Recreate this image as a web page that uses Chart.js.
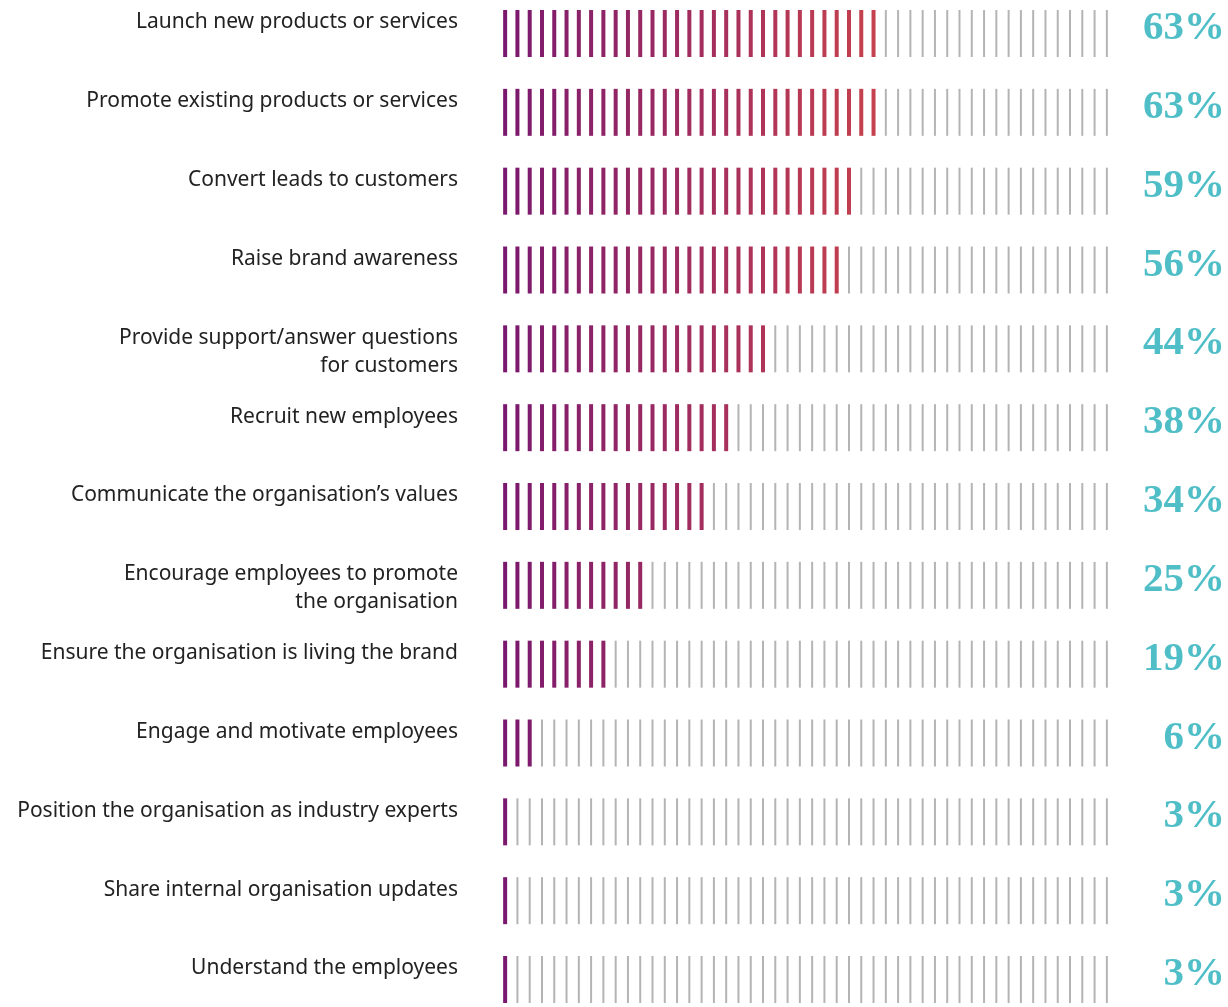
<!DOCTYPE html>
<html>
<head>
<meta charset="utf-8">
<script src="https://cdn.jsdelivr.net/npm/chart.js@4/dist/chart.umd.min.js"></script>
<style>
html,body{margin:0;padding:0;background:#fff;}
#wrap{width:1228px;height:1007px;position:relative;}
</style>
</head>
<body>
<div id="wrap"><canvas id="c"></canvas></div>
<script>
// ---- data ----
const categories = [
  ["Launch new products or services", ""],
  ["Promote existing products or services", ""],
  ["Convert leads to customers", ""],
  ["Raise brand awareness", ""],
  ["Provide support/answer questions", "for customers"],
  ["Recruit new employees", ""],
  ["Communicate the organisation\u2019s values", ""],
  ["Encourage employees to promote", "the organisation"],
  ["Ensure the organisation is living the brand", ""],
  ["Engage and motivate employees", ""],
  ["Position the organisation as industry experts", ""],
  ["Share internal organisation updates", ""],
  ["Understand the employees", ""]
];
const values = [63, 63, 59, 56, 44, 38, 34, 25, 19, 6, 3, 3, 3];
const valueLabels = values.map(v => v + "%");
const tickCount = 50;      // each stick stands for 2%
const tickStep = 2;

// ---- build stick points from the values ----
const filledPts = [], emptyPts = [];
values.forEach((v, row) => {
  const n = Math.floor(v / tickStep);
  for (let k = 0; k < tickCount; k++) {
    (k < n ? filledPts : emptyPts).push({x: k, y: row});
  }
});

const c0 = [122, 24, 110], c1 = [198, 65, 78];
function stickColor(k) {
  const t = Math.min(k / 30, 1);
  const c = c0.map((a, i) => Math.round(a + (c1[i] - a) * t));
  return `rgb(${c[0]},${c[1]},${c[2]})`;
}

const commonY = {
  type: 'linear', reverse: true, min: 0, max: categories.length - 1,
  grid: {display: false, drawTicks: false}, border: {display: false},
  afterBuildTicks: s => { s.ticks = categories.map((_, i) => ({value: i})); }
};

new Chart(document.getElementById('c'), {
  type: 'scatter',
  data: {
    datasets: [
      {
        label: 'share', data: filledPts, yAxisID: 'y',
        pointStyle: 'line', rotation: 90, radius: 23.5, hoverRadius: 23.5, hitRadius: 0,
        borderWidth: 4, hoverBorderWidth: 4,
        borderColor: ctx => stickColor(ctx.raw ? ctx.raw.x : 0),
        hoverBorderColor: ctx => stickColor(ctx.raw ? ctx.raw.x : 0),
        clip: false
      },
      {
        label: 'rest', data: emptyPts, yAxisID: 'y',
        pointStyle: 'line', rotation: 90, radius: 23.5, hoverRadius: 23.5, hitRadius: 0,
        borderWidth: 2, hoverBorderWidth: 2,
        borderColor: '#b4b4b4', hoverBorderColor: '#b4b4b4',
        clip: false
      }
    ]
  },
  options: {
    responsive: true, maintainAspectRatio: false, animation: false,
    devicePixelRatio: 1, events: [],
    layout: {padding: {top: 33.5, bottom: 24, left: 0, right: 3}},
    plugins: {legend: {display: false}, tooltip: {enabled: false}},
    scales: {
      x: {type: 'linear', min: -0.5, max: tickCount - 0.5, display: false},
      y: Object.assign({}, commonY, {
        position: 'left',
        ticks: {
          autoSkip: false, padding: 41, color: '#222', labelOffset: 3,
          font: {family: 'Noto Sans', size: 21, lineHeight: '28px'},
          callback: v => categories[v]
        },
        afterFit: s => { s.width = 499; s.paddingTop = 0; s.paddingBottom = 0; }
      }),
      y2: Object.assign({}, commonY, {
        position: 'right',
        ticks: {
          autoSkip: false, padding: 0, color: '#4fbec7', crossAlign: 'far', labelOffset: -5,
          font: {family: 'Liberation Serif', size: 41, weight: 'bold'},
          callback: v => valueLabels[v]
        },
        afterFit: s => { s.width = 112; s.paddingTop = 0; s.paddingBottom = 0; }
      })
    }
  }
});
</script>
</body>
</html>
